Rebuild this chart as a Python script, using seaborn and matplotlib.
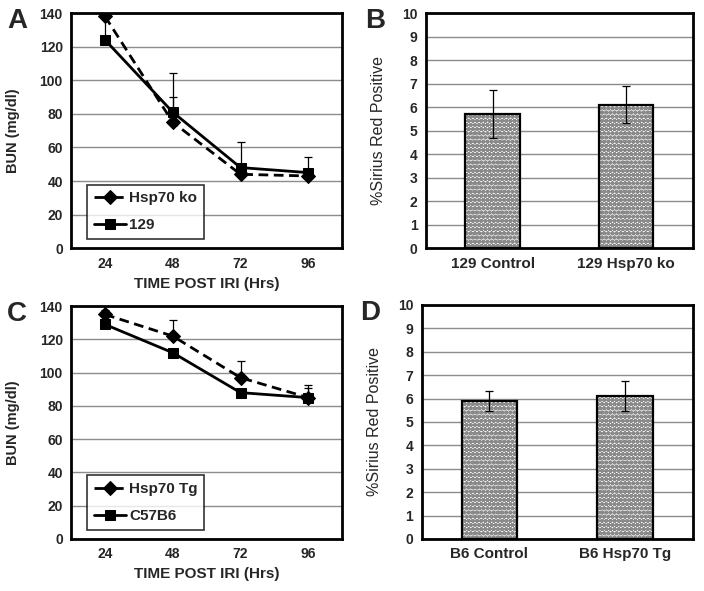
import numpy as np
import pandas as pd
import matplotlib
matplotlib.use("Agg")
import matplotlib.pyplot as plt
from matplotlib.patches import Rectangle
import seaborn as sns

sns.set_style("white")
plt.rcParams['font.family'] = ['Liberation Sans', 'DejaVu Sans']
plt.rcParams['font.weight'] = 'bold'
plt.rcParams['axes.labelweight'] = 'bold'
plt.rcParams['hatch.linewidth'] = 1.6

# ---- data ----
hours = ['24', '48', '72', '96']

ko_bun = [138, 75, 44, 43]
ko_err = [0, 15, 0, 0]
wt129_bun = [124, 81, 48, 45]
wt129_err = [13, 23, 15, 9]

tg_bun = [135, 122, 97, 85]
tg_err = [2.5, 9.5, 10, 7.5]
b6_bun = [129, 112, 88, 85]
b6_err = [0, 0, 0, 5.5]

groups_b = ['129 Control', '129 Hsp70 ko']
sirius_b = [5.7, 6.1]
sirius_b_err = [1.03, 0.78]

groups_d = ['B6 Control', 'B6 Hsp70 Tg']
sirius_d = [5.9, 6.1]
sirius_d_err = [0.42, 0.65]

fig = plt.figure(figsize=(7.04, 5.91), dpi=100)


def style_frame(ax):
    for s in ax.spines.values():
        s.set_visible(True)
        s.set_color('black')
        s.set_linewidth(2)
    ax.yaxis.grid(True, color='#8c8c8c', linewidth=1)
    ax.set_axisbelow(True)
    ax.tick_params(axis='y', direction='out', length=4, width=1.5, color='black',
                   labelsize=10, pad=2)


def line_panel(ax, s1, e1, n1, s2, e2, n2, letter):
    df = pd.DataFrame({'hrs': hours * 2, 'bun': s1 + s2,
                       'grp': [n1] * 4 + [n2] * 4})
    sns.lineplot(data=df, x='hrs', y='bun', hue='grp', style='grp',
                 palette=['black', 'black'], dashes=[(3.5, 2), ''],
                 markers=['D', 's'], markersize=7, linewidth=2,
                 markeredgecolor='black', ax=ax)
    pos = np.arange(len(hours))
    ax.errorbar(pos, s1, yerr=[np.zeros(4), e1], fmt='none', ecolor='black',
                elinewidth=0.9, capsize=3, capthick=0.9)
    ax.errorbar(pos, s2, yerr=[np.zeros(4), e2], fmt='none', ecolor='black',
                elinewidth=0.9, capsize=3, capthick=0.9)
    ax.set_xlim(-0.5, 3.5)
    ax.set_ylim(0, 140)
    ax.set_yticks(range(0, 141, 20))
    ax.set_xticks(pos)
    ax.set_xticks([0.5, 1.5, 2.5], minor=True)
    ax.tick_params(axis='x', which='major', length=0, pad=6, labelsize=10)
    ax.tick_params(axis='x', which='minor', direction='out', length=4, width=1.5)
    ax.set_xlabel('TIME POST IRI (Hrs)', fontsize=11, fontweight='bold')
    ax.xaxis.set_label_coords(0.5, -0.122)
    ax.set_ylabel('BUN (mg/dl)', fontsize=10.5, fontweight='bold')
    ax.yaxis.set_label_coords(-0.19, 0.5)
    style_frame(ax)
    leg = ax.legend(loc='lower left', bbox_to_anchor=(0.059, 0.038), borderaxespad=0,
                    frameon=True, fancybox=False, edgecolor='black', fontsize=11,
                    handlelength=2.1, handletextpad=0.2, borderpad=0.45,
                    labelspacing=0.85)
    leg.get_frame().set_linewidth(1.2)
    leg.get_lines()[0].set_dashes((4.5, 1.5))
    ax.text(-0.236, 1.02, letter, transform=ax.transAxes, fontsize=20,
            va='top', ha='left')


def bar_panel(ax, groups, vals, errs, letter):
    df = pd.DataFrame({'grp': groups, 'val': vals})
    sns.barplot(data=df, x='grp', y='val', color='white', width=0.41,
                errorbar=None, ax=ax)
    for p in ax.patches:
        p.set_hatch('oooo')
        p.set_edgecolor('#8a8a8a')
        p.set_linewidth(0)
        ax.add_patch(Rectangle(p.get_xy(), p.get_width(), p.get_height(),
                               fill=False, edgecolor='black', linewidth=1.6, zorder=3))
    ax.errorbar(np.arange(len(groups)), vals, yerr=errs, fmt='none', ecolor='black',
                elinewidth=0.9, capsize=3, capthick=0.9, zorder=4)
    ax.set_xlim(-0.5, 1.5)
    ax.set_ylim(0, 10)
    ax.set_yticks(range(0, 11))
    ax.set_xticks([0.5], minor=True)
    ax.tick_params(axis='x', which='major', length=0, pad=6, labelsize=11)
    ax.tick_params(axis='x', which='minor', direction='out', length=4, width=1.5)
    ax.set_xlabel('')
    ax.set_ylabel('%Sirius Red Positive', fontsize=11.5, fontweight='normal')
    ax.yaxis.set_label_coords(-0.148, 0.5)
    style_frame(ax)
    ax.text(-0.228, 1.02, letter, transform=ax.transAxes, fontsize=20,
            va='top', ha='left')


axA = fig.add_axes([0.101, 0.580, 0.385, 0.398])
axB = fig.add_axes([0.605, 0.580, 0.379, 0.398])
axC = fig.add_axes([0.101, 0.088, 0.385, 0.394])
axD = fig.add_axes([0.599, 0.088, 0.385, 0.396])

line_panel(axA, ko_bun, ko_err, 'Hsp70 ko', wt129_bun, wt129_err, '129', 'A')
bar_panel(axB, groups_b, sirius_b, sirius_b_err, 'B')
line_panel(axC, tg_bun, tg_err, 'Hsp70 Tg', b6_bun, b6_err, 'C57B6', 'C')
bar_panel(axD, groups_d, sirius_d, sirius_d_err, 'D')

fig.savefig('out.png', dpi=100)
